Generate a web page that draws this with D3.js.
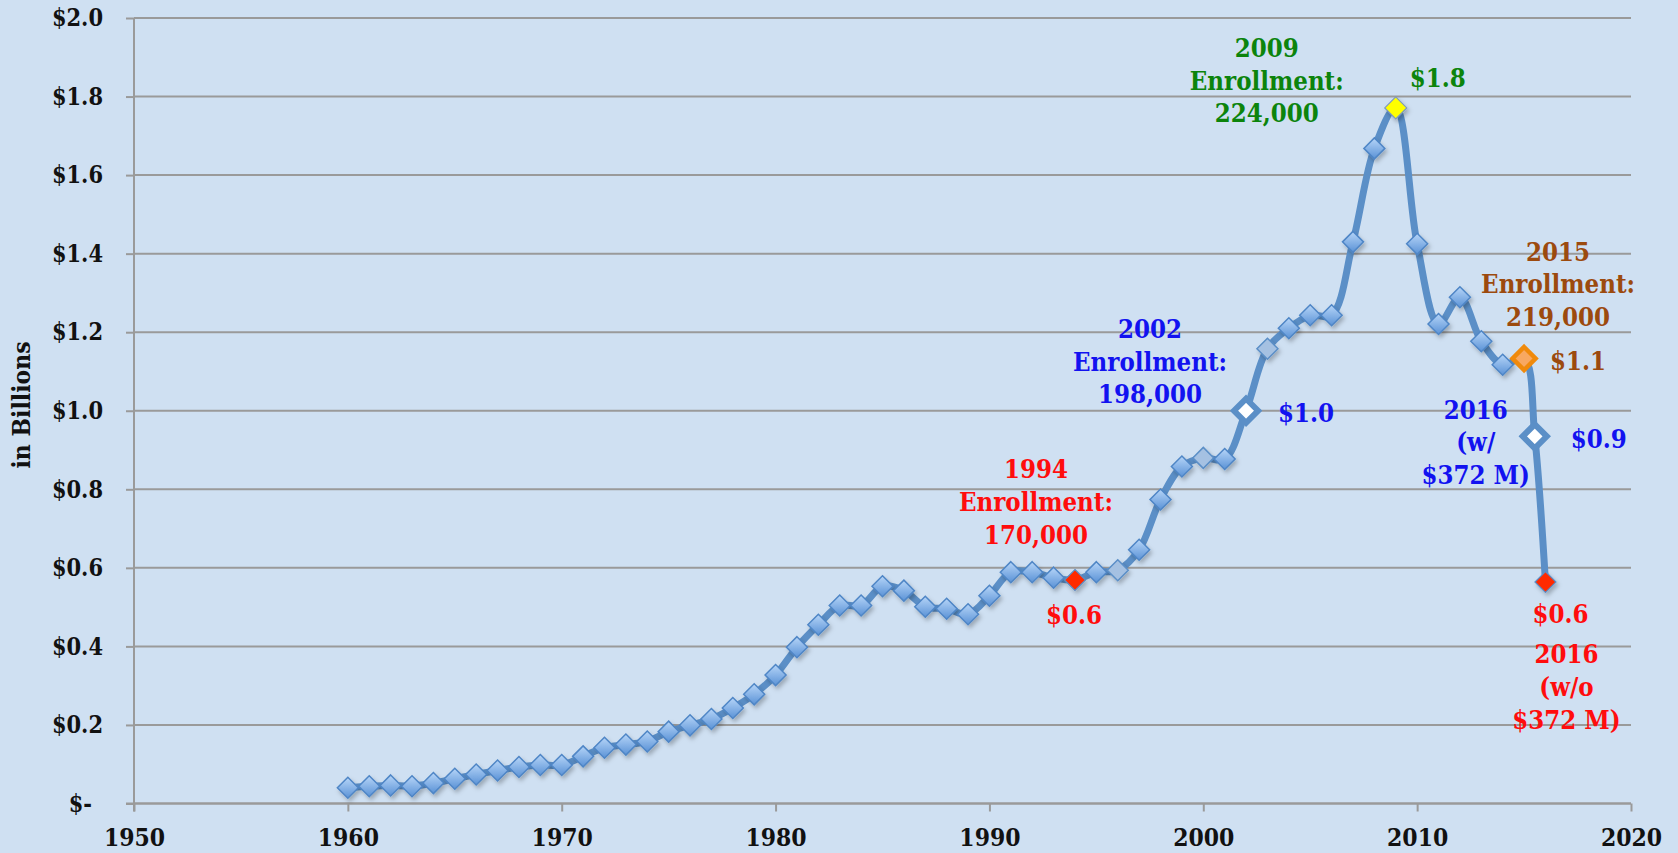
<html>
<head>
<meta charset="utf-8">
<title>Spending in Billions</title>
<script type="text/javascript" src="https://cdn.jsdelivr.net/npm/d3@7"></script>
<style>
  body { margin: 0; background: #cfe0f2; }
  svg text { font-family: "DejaVu Serif", serif; font-weight: bold; }
</style>
</head>
<body>
<script type="text/javascript">
// data
var years = [1960, 1961, 1962, 1963, 1964, 1965, 1966, 1967, 1968, 1969,
             1970, 1971, 1972, 1973, 1974, 1975, 1976, 1977, 1978, 1979,
             1980, 1981, 1982, 1983, 1984, 1985, 1986, 1987, 1988, 1989,
             1990, 1991, 1992, 1993, 1994, 1995, 1996, 1997, 1998, 1999,
             2000, 2001, 2002, 2003, 2004, 2005, 2006, 2007, 2008, 2009,
             2010, 2011, 2012, 2013, 2014, 2015, 2015.5, 2016];
var values = [0.040, 0.044, 0.046, 0.044, 0.052, 0.063, 0.074, 0.084, 0.093, 0.098,
              0.098, 0.120, 0.142, 0.150, 0.158, 0.183, 0.199, 0.215, 0.243, 0.278,
              0.327, 0.398, 0.455, 0.504, 0.504, 0.553, 0.542, 0.501, 0.496, 0.482,
              0.529, 0.589, 0.589, 0.575, 0.569, 0.589, 0.594, 0.646, 0.774, 0.858,
              0.880, 0.877, 1.000, 1.158, 1.210, 1.243, 1.243, 1.430, 1.668, 1.771,
              1.425, 1.221, 1.289, 1.177, 1.117, 1.133, 0.935, 0.564];
var yTicks = [0, 0.2, 0.4, 0.6, 0.8, 1.0, 1.2, 1.4, 1.6, 1.8, 2.0];
var xTicks = [1950, 1960, 1970, 1980, 1990, 2000, 2010, 2020];

// special markers (by x value)
var lightPoints = [1996, 2000, 2003];
var redPoints = [1994, 2016];
var whitePoints = [2002, 2015.5];
var yellowPoints = [2009];
var orangePoints = [2015];

// callouts
var notes = [
    {x: 1994, lines: ["1994", "Enrollment:", "170,000"], color: "#ff0d0d", dx: -39, dy: -111},
    {x: 1994, lines: ["$0.6"], color: "#ff0d0d", dx: -1, dy: 35},
    {x: 2002, lines: ["2002", "Enrollment:", "198,000"], color: "#1212f0", dx: -96, dy: -82},
    {x: 2002, lines: ["$1.0"], color: "#1212f0", dx: 60, dy: 2},
    {x: 2009, lines: ["2009", "Enrollment:", "224,000"], color: "#0c840c", dx: -129, dy: -60},
    {x: 2009, lines: ["$1.8"], color: "#0c840c", dx: 42, dy: -30},
    {x: 2015, lines: ["2015", "Enrollment:", "219,000"], color: "#9c4a0e", dx: 34, dy: -107},
    {x: 2015, lines: ["$1.1"], color: "#9c4a0e", dx: 54, dy: 2},
    {x: 2015.5, lines: ["2016", "(w/", "$372 M)"], color: "#1212f0", dx: -59, dy: -27},
    {x: 2015.5, lines: ["$0.9"], color: "#1212f0", dx: 64, dy: 2},
    {x: 2016, lines: ["$0.6"], color: "#ff0d0d", dx: 15, dy: 32},
    {x: 2016, lines: ["2016", "(w/o", "$372 M)"], color: "#ff0d0d", dx: 21, dy: 72}
];

var w = 1678, h = 853;
var mLeft = 134, mRight = 1631, mTop = 18, mBottom = 803.5;

var svg = d3.select("body").append("svg").attr("width", w).attr("height", h);
svg.append("rect").attr("width", w).attr("height", h).attr("fill", "#cfe0f2");

var defs = svg.append("defs");
var grad = defs.append("linearGradient").attr("id", "blueFill")
               .attr("x1", 0).attr("y1", 0).attr("x2", 0).attr("y2", 1);
grad.append("stop").attr("offset", "0%").attr("stop-color", "#b6d5f8");
grad.append("stop").attr("offset", "100%").attr("stop-color", "#5a92d6");
var shadow = defs.append("filter").attr("id", "shadow")
                 .attr("x", "-50%").attr("y", "-50%").attr("width", "200%").attr("height", "200%");
shadow.append("feDropShadow").attr("dx", 2).attr("dy", 3).attr("stdDeviation", 2)
      .attr("flood-color", "#000").attr("flood-opacity", 0.25);

var x = d3.scaleLinear().domain([1950, 2020]).range([mLeft, mRight]);
var y = d3.scaleLinear().domain([0, 2.0]).range([mBottom, mTop]);

// gridlines
svg.append("g").selectAll("line").data(yTicks).enter().append("line")
   .attr("x1", mLeft).attr("x2", mRight)
   .attr("y1", function(d) { return y(d); }).attr("y2", function(d) { return y(d); })
   .attr("stroke", "#9a9a9a").attr("stroke-width", 2);

// axes (text stretched a little to get the tall serif look of the original)
var yAxis = d3.axisLeft(y).tickValues(yTicks).tickSize(8).tickPadding(23)
              .tickFormat(function(d) { return d === 0 ? "$-" : "$" + d.toFixed(1); });
var gy = svg.append("g").attr("transform", "translate(" + mLeft + ",0)").call(yAxis);
gy.selectAll("line, path").attr("stroke", "#9a9a9a").attr("stroke-width", 2);
gy.select(".domain").attr("d", "M0," + mTop + "V" + (mBottom + 8));
gy.selectAll("text").attr("fill", "#111").style("font-size", "21px")
  .attr("dx", function(d) { return d === 0 ? -11 : 0; })
  .attr("transform", "scale(1,1.16)");

var xAxis = d3.axisBottom(x).tickValues(xTicks).tickSize(8).tickPadding(16)
              .tickFormat(d3.format("d"));
var gx = svg.append("g").attr("transform", "translate(0," + mBottom + ")").call(xAxis);
gx.selectAll("line, path").attr("stroke", "#9a9a9a").attr("stroke-width", 2);
gx.select(".domain").attr("d", "M" + (mLeft - 8) + ",0H" + mRight);
gx.selectAll("text").attr("fill", "#111").style("font-size", "22px")
  .attr("transform", "scale(1,1.07)");

svg.append("text").attr("transform", "translate(30,405) rotate(-90) scale(1,1.12)")
   .attr("text-anchor", "middle").attr("fill", "#111").style("font-size", "22px")
   .text("in Billions");

// line
var pts = years.map(function(d, i) { return {x: d, v: values[i]}; });
var line = d3.line().x(function(d) { return x(d.x); }).y(function(d) { return y(d.v); })
             .curve(d3.curveCatmullRom.alpha(0.5));
svg.append("path").datum(pts).attr("d", line).attr("fill", "none")
   .attr("stroke", "#5b8fc7").attr("stroke-width", 7).attr("stroke-linejoin", "round");

// markers
function diamond(r) { return "M0," + (-r) + "L" + r + ",0L0," + r + "L" + (-r) + ",0Z"; }
function has(arr, v) { return arr.indexOf(v) >= 0; }

svg.append("g").selectAll("path").data(pts).enter().append("path")
   .attr("transform", function(d) { return "translate(" + x(d.x) + "," + y(d.v) + ")"; })
   .attr("filter", function(d) { return has(whitePoints, d.x) || has(orangePoints, d.x) ? null : "url(#shadow)"; })
   .each(function(d) {
       var m = d3.select(this);
       if (has(whitePoints, d.x)) {
           m.attr("d", diamond(12)).attr("fill", "#fff").attr("stroke", "#5b8fc7").attr("stroke-width", 6);
       } else if (has(orangePoints, d.x)) {
           m.attr("d", diamond(11.5)).attr("fill", "#f8a862").attr("stroke", "#f08a0c").attr("stroke-width", 4.5);
       } else if (has(redPoints, d.x)) {
           m.attr("d", diamond(10.5)).attr("fill", "#ff2a00").attr("stroke", "#5b8fc7").attr("stroke-width", 1.2);
       } else if (has(yellowPoints, d.x)) {
           m.attr("d", diamond(11)).attr("fill", "#ffff00").attr("stroke", "#7c98bc").attr("stroke-width", 1.2);
       } else if (has(lightPoints, d.x)) {
           m.attr("d", diamond(10.5)).attr("fill", "#a5c1e2").attr("stroke", "#5b8fc7").attr("stroke-width", 1.5);
       } else {
           m.attr("d", diamond(10.5)).attr("fill", "url(#blueFill)").attr("stroke", "#4f86c6").attr("stroke-width", 1.5);
       }
   });

// callout text
var lineGap = 32.6, stretch = 1.13;
notes.forEach(function(n) {
    var i = years.indexOf(n.x);
    var cx = x(n.x) + n.dx, cy = y(values[i]) + n.dy;
    var t = svg.append("text").attr("text-anchor", "middle").attr("fill", n.color)
               .attr("transform", "translate(" + cx + "," + cy + ") scale(1," + stretch + ")")
               .style("font-size", "23px");
    n.lines.forEach(function(s, k) {
        t.append("tspan").attr("x", 0).attr("y", k * lineGap / stretch).attr("dy", "0.36em").text(s);
    });
});
</script>
</body>
</html>
